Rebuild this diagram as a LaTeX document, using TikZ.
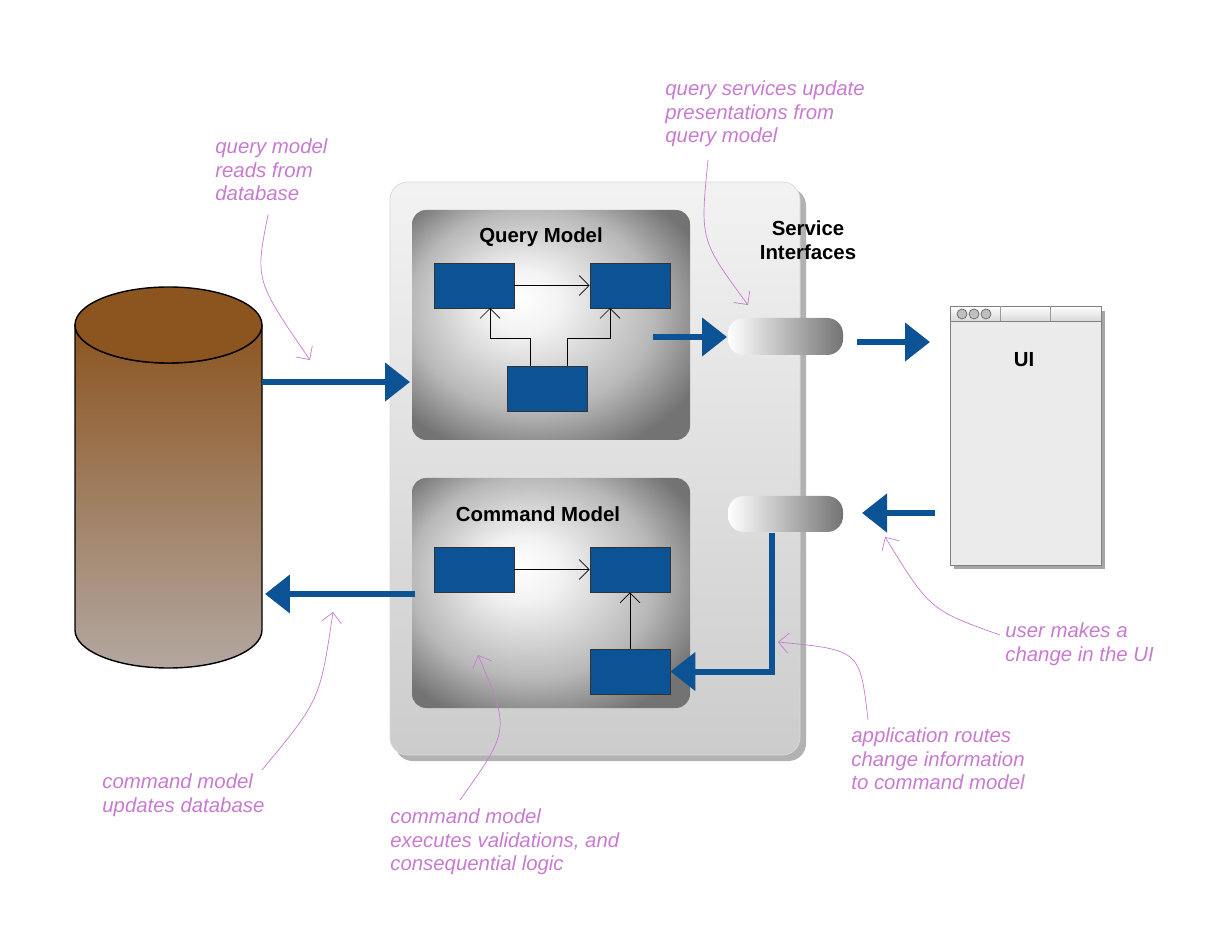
\documentclass[tikz,border=0pt]{standalone}
\usepackage{fontspec}
\setmainfont{Liberation Sans}
\usetikzlibrary{shapes.geometric,arrows.meta,shadows}
\definecolor{boxblue}{HTML}{0B5394}
\definecolor{note}{HTML}{C77BD0}
\definecolor{woodtop}{HTML}{8C5520}
\definecolor{woodbot}{HTML}{B3A7A0}
\pgfdeclareradialshading{modelglow}{\pgfpoint{-6bp}{6bp}}{color(0bp)=(white); color(7bp)=(white!95!black); color(22bp)=(black!28); color(32bp)=(black!55); color(50bp)=(black!55)}
\begin{document}
\begin{tikzpicture}[x=0.02cm,y=-0.02cm]
  \tikzset{blue box/.style={draw=black!80,fill=boxblue,minimum width=1.6cm,minimum height=0.9cm,inner sep=0pt},
           thin arrow/.style={-{Straight Barb[length=2mm]},thin},
           thick arrow/.style={boxblue,line width=1.2mm,-{Triangle[length=5mm,width=7.5mm]}},
           note text/.style={note,align=left,anchor=north west,font=\itshape\fontsize{11.6}{13.6}\selectfont,inner sep=0pt},
           note line/.style={note,thin,-{Straight Barb[length=2mm]}},
           model/.style={rounded corners=8pt,shading=modelglow},
           pill/.style={rounded corners=9pt,left color=white,right color=black!55},
           title/.style={font=\bfseries\fontsize{11.6}{13.6}\selectfont,align=center}}
  \useasboundingbox (0,0) rectangle (1206,928);

  % database
  \shade[top color=woodtop,bottom color=woodbot,draw=black,thick]
    (75,325) -- (75,630) arc[start angle=180,end angle=360,x radius=93.5,y radius=-38] -- (262,325)
    arc[start angle=0,end angle=180,x radius=93.5,y radius=38] -- cycle;
  \draw[thick,fill=woodtop] (168.5,325) ellipse[x radius=93.5,y radius=38];
  \coordinate (dbin) at (262,382);
  \coordinate (dbout) at (265,594);

  % service panel
  \fill[black!30,rounded corners=10pt] (395,188) rectangle (806,761);
  \shade[rounded corners=10pt,top color=black!5,bottom color=black!20,draw=black!15] (390,182) rectangle (800,755);
  \shade[model] (412,210) rectangle (690,440);
  \shade[model] (412,478) rectangle (690,708);
  \node[title] (qtitle) at (541,237) {Query Model};
  \node[title] (ctitle) at (538,514) {Command Model};
  \node[title] (svc) at (808,240) {Service\\Interfaces};

  % query model boxes
  \node[blue box] (q1) at (474,285.5) {};
  \node[blue box] (q2) at (630,285.5) {};
  \node[blue box] (q3) at (547,388.5) {};
  \draw[thin arrow] (q1) -- (q2);
  \draw[thin arrow] ([xshift=-0.34cm]q3.north) |- (490,338) -- (490,308);
  \draw[thin arrow] ([xshift=0.4cm]q3.north) |- (610,338) -- (610,308);

  % command model boxes
  \node[blue box] (c1) at (474,569.5) {};
  \node[blue box] (c2) at (630,569.5) {};
  \node[blue box] (c3) at (630,671.5) {};
  \draw[thin arrow] (c1) -- (c2);
  \draw[thin arrow] (c3) -- (c2);

  % service interfaces
  \shade[pill] (728,318) rectangle (843,355);
  \shade[pill] (728,496) rectangle (843,532);
  \coordinate (sq) at (727,337);
  \coordinate (sc) at (772,533);

  % UI window
  \fill[black!35] (954,311) rectangle (1105,569);
  \draw[black!50,fill=black!8] (950,306) rectangle (1101,565);
  \shade[top color=white,bottom color=black!15,draw=black!50] (950,306) rectangle (1101,321);
  \draw[black!40] (1000,306) -- (1000,321) (1050,306) -- (1050,321);
  \foreach \cx in {962,974,986} \draw[black!60,fill=black!25] (\cx,314) circle[radius=5];
  \node[title] (ui) at (1024,360) {UI};

  % flows
  \draw[thick arrow] (dbin) -- (410,382);
  \draw[thick arrow] (415,594) -- (dbout);
  \draw[thick arrow] (653,337) -- (sq);
  \draw[thick arrow] (857,342) -- (930,342);
  \draw[thick arrow] (935,513) -- (862,513);
  \draw[thick arrow] (sc) |- (c3.east);

  % notes
  \node[note text] (n1) at (215,138) {query model\\reads from\\database};
  \node[note text] (n2) at (665,80) {query services update\\presentations from\\query model};
  \node[note text] (n3) at (1005,622) {user makes a\\change in the UI};
  \node[note text] (n4) at (851,727) {application routes\\change information\\to command model};
  \node[note text] (n5) at (102,773) {command model\\updates database};
  \node[note text] (n6) at (390,808) {command model\\executes validations, and\\consequential logic};
  \draw[note line] (268,215) .. controls (255,280) .. (310,360);
  \draw[note line] (708,160) .. controls (700,240) .. (748,305);
  \draw[note line] (1000,635) .. controls (930,610) .. (885,537);
  \draw[note line] (868,720) .. controls (860,650) .. (778,642);
  \draw[note line] (262,770) .. controls (320,700) .. (333,612);
  \draw[note line] (460,800) .. controls (510,730) .. (478,655);
\end{tikzpicture}
\end{document}
